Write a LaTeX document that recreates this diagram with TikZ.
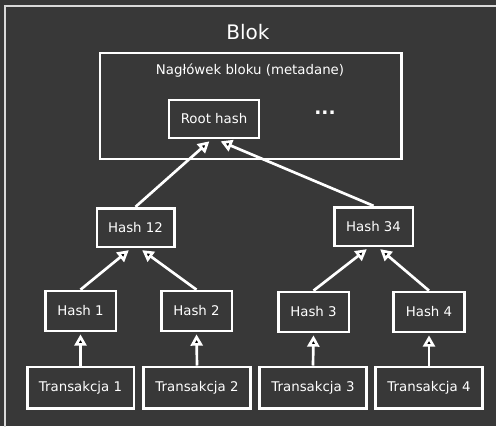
\documentclass[tikz,border=0pt]{standalone}
\usepackage{fontspec}
\setmainfont{DejaVu Sans}
\usetikzlibrary{arrows.meta}
\definecolor{bgdark}{HTML}{383838}
\tikzset{
  box/.style={draw=white,line width=2pt,text=white,inner sep=0pt,font=\fontsize{10}{12}\selectfont},
  hashbox/.style={box,minimum width=53pt,minimum height=30pt},
  txbox/.style={box,minimum width=80pt,minimum height=31pt},
  link/.style={draw=white,line width=2pt,-{Triangle[fill=black,length=8.5pt,width=9pt]}}
}
\begin{document}
\begin{tikzpicture}[x=0.75pt,y=-0.75pt]
  \fill[bgdark] (0,0) rectangle (496,426);
  \clip (0,0) rectangle (496,426);
  \useasboundingbox (0,0) rectangle (496,426);
  \draw[white!85!black,line width=1.8pt] (5,6) rectangle (505,440);
  \node[text=white,font=\fontsize{15}{18}\selectfont] at (248,32) (blok) {Blok};
  % block header
  \node[box,minimum width=226pt,minimum height=79.5pt] at (250.5,106) (header) {};
  \node[text=white,font=\fontsize{10}{12}\selectfont] at (250,71) (headtitle) {Nagłówek bloku (metadane)};
  \node[box,minimum width=67.5pt,minimum height=28.5pt] at (214,119) (root) {Root hash};
  \node[text=white,font=\fontsize{14}{16}\selectfont\bfseries] at (325,113) (dots) {...};
  % hash tree
  \node[hashbox,minimum width=58pt,minimum height=29pt] at (135.5,227.5) (h12) {Hash 12};
  \node[hashbox,minimum width=59pt,minimum height=29pt] at (373.5,226.5) (h34) {Hash 34};
  \node[hashbox] at (80.5,311) (h1) {Hash 1};
  \node[hashbox] at (196.5,311) (h2) {Hash 2};
  \node[hashbox] at (313.5,312) (h3) {Hash 3};
  \node[hashbox] at (429,312) (h4) {Hash 4};
  % transactions
  \node[txbox] at (80.5,387.5) (t1) {Transakcja 1};
  \node[txbox] at (197,387.5) (t2) {Transakcja 2};
  \node[txbox] at (313,387.5) (t3) {Transakcja 3};
  \node[txbox] at (429,387.5) (t4) {Transakcja 4};
  % arrows
  \draw[link] (h12.north) -- ([xshift=-3.5pt,yshift=-1.5pt]root.south);
  \draw[link] (h34.north) -- ([xshift=5pt,yshift=-1.5pt]root.south);
  \draw[link] (h1.north) -- ([xshift=-5pt,yshift=-1.5pt]h12.south);
  \draw[link] (h2.north) -- ([xshift=5pt,yshift=-1.5pt]h12.south);
  \draw[link] (h3.north) -- ([xshift=-5pt,yshift=-1.5pt]h34.south);
  \draw[link] (h4.north) -- ([xshift=5pt,yshift=-1.5pt]h34.south);
  \draw[link] (t1.north) -- ([yshift=-1.5pt]h1.south);
  \draw[link] (t2.north) -- ([yshift=-1.5pt]h2.south);
  \draw[link] (t3.north) -- ([yshift=-1.5pt]h3.south);
  \draw[link] (t4.north) -- ([yshift=-1.5pt]h4.south);
\end{tikzpicture}
\end{document}
